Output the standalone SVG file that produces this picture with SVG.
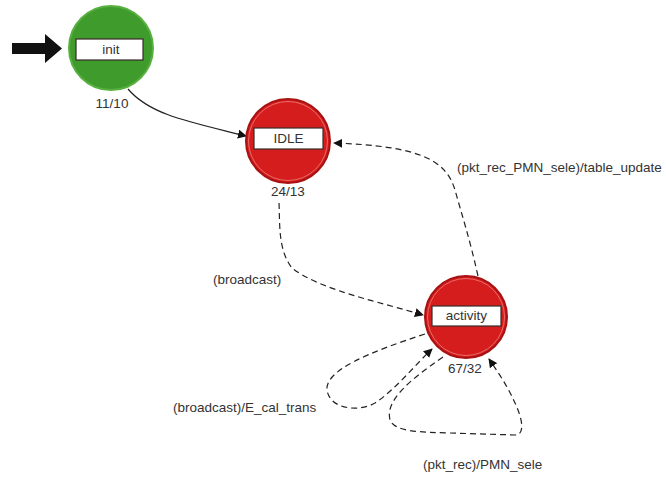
<svg xmlns="http://www.w3.org/2000/svg" width="666" height="477" viewBox="0 0 666 477">
<style>
text{font-family:"Liberation Sans",Arial,sans-serif;font-size:13.5px;fill:#333}
.lbl{fill:#fff;stroke:#3a2a2a;stroke-width:1.2}
.red{fill:#d51d1d;stroke:#a81212;stroke-width:2}
.redin{fill:none;stroke:#ec6a6a;stroke-width:1}
.green{fill:#3f9b2c;stroke:#58b040;stroke-width:2}
.e{fill:none;stroke:#222;stroke-width:1.2}
.d{stroke-dasharray:6 4}
.mid{text-anchor:middle}
</style>
<defs>
<marker id="ah" viewBox="0 0 10 10" refX="9" refY="5" markerWidth="9" markerHeight="9" markerUnits="userSpaceOnUse" orient="auto">
<path d="M0,0 L10,5 L0,10 Z" fill="#111"/>
</marker>
</defs>
<rect width="666" height="477" fill="#fff"/>
<g id="start-arrow">
<path d="M12,43 L45,43 L45,34 L62,48.5 L45,63 L45,54 L12,54 Z" fill="#111"/>
</g>
<g id="connectors">
<path class="e" d="M128,89 C150,115 190,122 246,136" marker-end="url(#ah)"/>
<path class="e d" d="M279,203 C280,225 278,250 292,268 C320,290 380,302 423,315" marker-end="url(#ah)"/>
<path class="e d" d="M478,276 C470,240 462,215 455,190 C446,160 420,146 334,143" marker-end="url(#ah)"/>
<path class="e d" d="M425,334 C370,352 325,370 327,390 C330,410 360,412 375,403 C395,390 415,365 432,349" marker-end="url(#ah)"/>
<path class="e d" d="M443,357 C410,380 385,400 390,420 C395,432 420,432 450,433 L515,435 C525,435 522,420 518,410 C510,390 500,375 489,359" marker-end="url(#ah)"/>
</g>
<g id="edge-labels">
<text x="457" y="172">(pkt_rec_PMN_sele)/table_update</text>
<text x="213" y="284">(broadcast)</text>
<text x="173" y="412">(broadcast)/E_cal_trans</text>
<text x="423" y="469">(pkt_rec)/PMN_sele</text>
</g>
<g id="init">
<circle class="green" cx="111" cy="48" r="42"/>
<rect class="lbl" x="76" y="39" width="67" height="21"/>
<text class="mid" x="111" y="54">init</text>
<text class="mid" x="112" y="108">11/10</text>
</g>
<g id="IDLE">
<circle class="red" cx="288" cy="141" r="42"/>
<circle class="redin" cx="288" cy="141" r="39.5"/>
<rect class="lbl" x="254" y="128" width="69" height="21"/>
<text class="mid" x="288.5" y="143">IDLE</text>
<text class="mid" x="288" y="196">24/13</text>
</g>
<g id="activity">
<circle class="red" cx="466" cy="317" r="41"/>
<circle class="redin" cx="466" cy="317" r="38.5"/>
<rect class="lbl" x="432" y="306" width="69" height="20"/>
<text class="mid" x="466.5" y="320">activity</text>
<text class="mid" x="465" y="373">67/32</text>
</g>
</svg>
